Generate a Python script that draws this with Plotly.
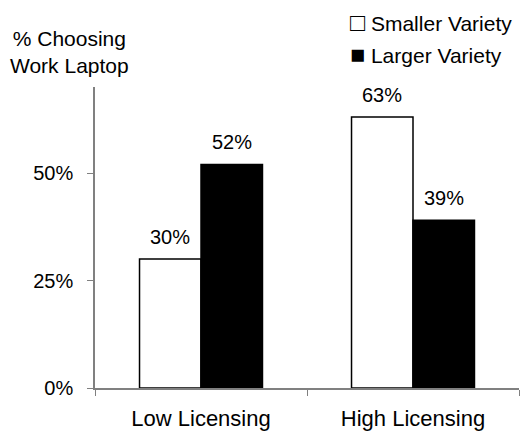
import plotly.graph_objects as go

categories = ["Low Licensing", "High Licensing"]
smaller = [0.30, 0.63]
larger = [0.52, 0.39]
series_names = ["Smaller Variety", "Larger Variety"]
legend_marks = ["\u25a1", "\u25a0"]
ytick_vals = [0, 0.25, 0.5]
ytick_text = ["0%", "25%", "50%"]

font = "Liberation Sans, Arial, Helvetica, sans-serif"
W, H = 522, 432
ML, MR, MT, MB = 95, 3, 87, 44
BARGAP = 0.42

fig = go.Figure()
fig.add_trace(go.Bar(
    x=categories, y=smaller, name=series_names[0],
    marker=dict(color="white", line=dict(color="black", width=1.5)),
))
fig.add_trace(go.Bar(
    x=categories, y=larger, name=series_names[1],
    marker=dict(color="black", line=dict(color="black", width=1.5)),
))

# bar value labels, placed via data coordinates with a pixel offset for the group slot
cat_px = (W - ML - MR) / len(categories)
bar_px = cat_px * (1 - BARGAP) / 2
annotations = []
for series, shift in ((smaller, -bar_px / 2), (larger, bar_px / 2)):
    for c, v in zip(categories, series):
        annotations.append(dict(
            x=c, y=v, xref="x", yref="y", text=f"{v*100:.0f}%",
            xshift=shift, yshift=9, yanchor="bottom", xanchor="center",
            showarrow=False, font=dict(size=20, family=font, color="black")))

annotations.append(dict(text="% Choosing<br>Work Laptop", xref="paper", yref="paper",
                        x=-0.06, y=1.115, xanchor="center", yanchor="middle",
                        showarrow=False, font=dict(size=21, family=font)))
for i, (mk, nm) in enumerate(zip(legend_marks, series_names)):
    annotations.append(dict(
        text=f"<span style='font-size:25px'>{mk}</span> {nm}", xref="paper", yref="paper",
        x=0.597, y=1.216 - i * 0.108, xanchor="left", yanchor="middle",
        showarrow=False, font=dict(size=21, family=font)))

fig.update_layout(
    width=W, height=H,
    margin=dict(l=ML, r=MR, t=MT, b=MB, autoexpand=False),
    paper_bgcolor="white", plot_bgcolor="white",
    font=dict(family=font, size=20, color="black"),
    barmode="group", bargap=BARGAP, bargroupgap=0,
    showlegend=False,
    annotations=annotations,
)
fig.update_xaxes(
    showline=True, linecolor="#808080", linewidth=1.5,
    ticks="outside", tickson="boundaries", ticklen=6, tickcolor="#808080",
    tickfont=dict(size=22), showgrid=False, ticklabelstandoff=10,
)
fig.update_yaxes(
    range=[0, 0.7], showline=True, linecolor="#808080", linewidth=1.5,
    tickvals=ytick_vals, ticktext=ytick_text,
    ticks="outside", ticklen=6, tickcolor="#808080",
    tickfont=dict(size=20), showgrid=False, zeroline=False,
    ticklabelstandoff=10,
)

fig.write_html("out.html", config={"displayModeBar": False},
               post_script="document.body.style.margin='0';")
